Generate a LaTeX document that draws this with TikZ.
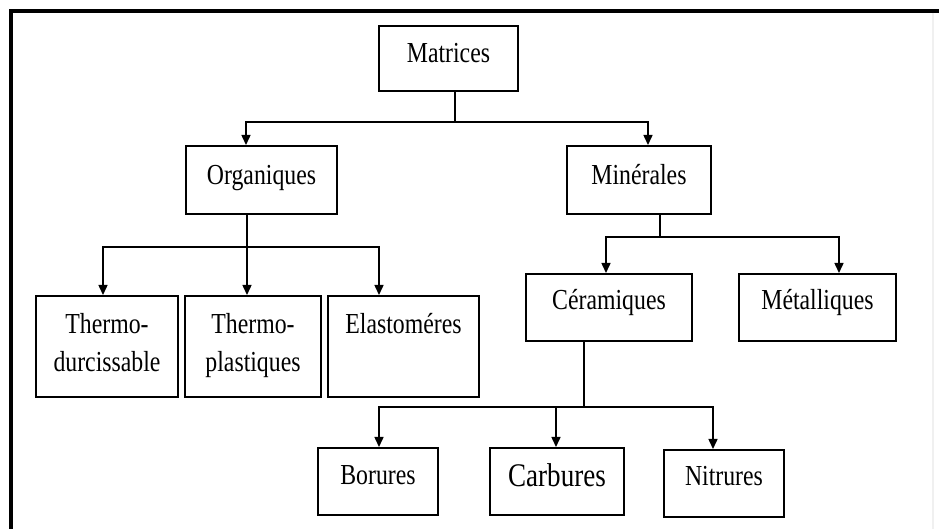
\documentclass[tikz,border=0pt]{standalone}
\usepackage{fontspec}
\setmainfont{Liberation Serif}[FakeStretch=0.82]
\usepackage{tikz}
\usetikzlibrary{arrows.meta, positioning}
\tikzset{%
	box/.style={draw, line width=1pt, rectangle, inner sep=0pt, align=center,%
		font=\fontsize{14.5}{18.75}\selectfont},
	link/.style={line width=0.75pt},
	sel/.style={link, -{Triangle[length=5pt, width=4.5pt]}},
	frame/.style={line width=1.6pt}
}

\begin{document}
\begin{tikzpicture}[x=0.5pt, y=-0.5pt]
	\useasboundingbox (0,0) rectangle (939,529);
	\draw [frame] (11,529) -- (11,11) -- (939,11);
	\draw [gray!12, line width=0.6pt] (933,13) -- (933,529);

	\node[box, anchor=north west, minimum width=69.5pt, text height=18.5pt, text depth=14pt] (mat) at (378,25) {Matrices};
	\node[box, minimum width=75.5pt, text height=19.5pt, text depth=14.5pt] (org) [below left=26.5pt and 20pt of mat] {Organiques};
	\node[box, minimum width=72pt, text height=19.5pt, text depth=14.5pt] (min) [below right=26.5pt and 23.5pt of mat] {Minérales};
	\node[box, minimum width=71pt, text height=37.75pt, text depth=12.75pt] (td) [below left=40pt and 3pt of org] {Thermo-\\durcissable};
	\node[box, minimum width=68pt, text height=37.75pt, text depth=12.75pt] (tp) [right=2.5pt of td] {Thermo-\\plastiques};
	\node[box, minimum width=75.5pt, text height=19pt, text depth=31.5pt] (el) [right=2.5pt of tp] {Elastoméres};
	\node[box, minimum width=83pt, text height=18pt, text depth=15.5pt] (cer) [below=29pt of min, xshift=-15pt] {Céramiques};
	\node[box, minimum width=78.5pt, text height=18pt, text depth=15.5pt] (met) [right=22.5pt of cer] {Métalliques};
	\node[box, minimum width=67pt, text height=19.5pt, text depth=14pt, font=\fontsize{16.5}{20}\selectfont] (car) [below=52.5pt of cer, xshift=-26pt] {Carbures};
	\node[box, minimum width=60pt, text height=18.5pt, text depth=15pt] (bor) [left=25pt of car] {Borures};
	\node[box, minimum width=60pt, text height=18pt, text depth=15.5pt] (nit) [right=19pt of car, yshift=-1pt] {Nitrures};

	\coordinate (mat-j) at (455,122);
	\coordinate (org-j) at (247,247);
	\coordinate (min-j) at (660,237);
	\coordinate (cer-j) at (584,407);

	\draw [link] (mat.south -| mat-j) -- (mat-j);
	\draw [sel] (mat-j) -| ([xshift=-7.75pt]org.north);
	\draw [sel] (mat-j) -| ([xshift=4.5pt]min.north);

	\draw [link] (org.south -| org-j) -- (org-j);
	\draw [sel] (org-j) -| ([xshift=-2pt]td.north);
	\draw [sel] (org-j) -- (org-j |- tp.north);
	\draw [sel] (org-j) -| ([xshift=-12.25pt]el.north);

	\draw [link] (min.south -| min-j) -- (min-j);
	\draw [sel] (min-j) -| ([xshift=-1.5pt]cer.north);
	\draw [sel] (min-j) -| ([xshift=10.75pt]met.north);

	\draw [link] (cer.south -| cer-j) -- (cer-j);
	\draw [sel] (cer-j) -| ([xshift=0.5pt]bor.north);
	\draw [sel] (cer-j) -| ([xshift=-0.5pt]car.north);
	\draw [sel] (cer-j) -| ([xshift=-5.5pt]nit.north);
\end{tikzpicture}
\end{document}
